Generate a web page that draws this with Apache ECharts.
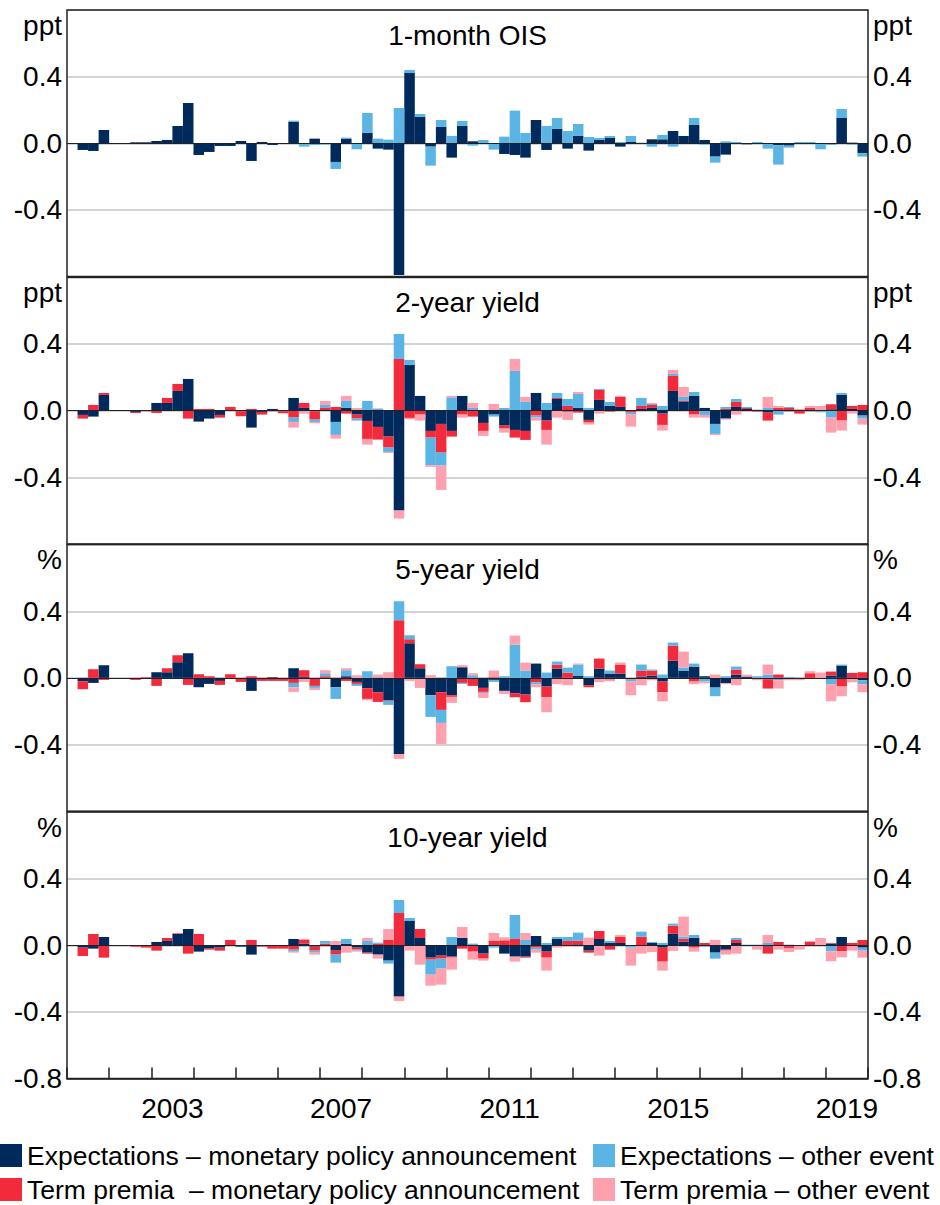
<!DOCTYPE html>
<html>
<head>
<meta charset="utf-8">
<title>Decomposition of yield changes</title>
<script src="https://cdn.jsdelivr.net/npm/echarts@6/dist/echarts.min.js"></script>
<style>
  html, body { margin: 0; padding: 0; background: #fff; }
  #chart { width: 940px; height: 1205px; }
</style>
</head>
<body>
<div id="chart"></div>
<script>
// quarters 2001 Q1 .. 2019 Q4
var years = [2001, 2002, 2003, 2004, 2005, 2006, 2007, 2008, 2009, 2010,
             2011, 2012, 2013, 2014, 2015, 2016, 2017, 2018, 2019];
var quarters = [];
years.forEach(function (y) {
  ['Q1', 'Q2', 'Q3', 'Q4'].forEach(function (q) { quarters.push(y + ' ' + q); });
});
var yearLabels = ['2003', '2007', '2011', '2015', '2019'];

var seriesNames = [
  'Expectations – monetary policy announcement',
  'Term premia  – monetary policy announcement',
  'Expectations – other event',
  'Term premia – other event'
];

// 1-month OIS (ppt)
var ois_expMp = [
  0, -0.04, -0.046, 0.08,   0, 0, 0.006, 0.006,   0.014, 0.02, 0.104, 0.242,   -0.07, -0.052, -0.016, -0.016,
  0.014, -0.106, 0.008, -0.01,   0, 0.13, 0, 0.028,   0, -0.112, 0.026, -0.004,   0.064, -0.032, -0.038, -0.79,
  0.422, 0.16, -0.02, 0.098,   -0.086, 0.104, 0.012, -0.004,   0, -0.064, -0.07, -0.086,   0.14, -0.04, 0.086, -0.032,
  0.044, -0.044, 0.02, 0.032,   -0.02, 0.008, 0, 0.024,   0.024, 0.074, 0.044, 0.11,   0.02, -0.08, -0.068, -0.004,
  -0.006, -0.004, -0.006, -0.012,   -0.014, -0.004, -0.004, -0.004,   -0.004, 0.152, 0.004, -0.06
];
var ois_expOther = [
  0, 0, 0, 0,   0, 0, 0, 0,   0, 0, 0, 0,   0, 0, 0, 0,
  0, 0, 0, 0,   0, 0.006, -0.02, -0.01,   -0.008, -0.042, 0.008, -0.032,   0.118, 0.028, 0.022, 0.212,
  0.018, 0.016, -0.114, 0.042,   0.044, 0.03, -0.014, 0.02,   -0.038, 0.04, 0.196, 0.062,   0, 0.104, 0.066, 0.074,
  0.072, 0.038, 0.012, 0.012,   0.008, 0.036, 0.004, -0.02,   0.026, -0.02, -0.004, 0.042,   -0.008, -0.036, 0.012, 0.008,
  0, 0.008, -0.026, -0.116,   -0.012, 0.008, 0.008, -0.032,   -0.006, 0.054, -0.008, -0.02
];

// 2-year yield (ppt)
var y2_expMp = [
  0, -0.026, -0.036, 0.094,   0, 0, -0.008, 0,   0.046, 0.046, 0.118, 0.19,   -0.066, -0.048, -0.026, 0,
  -0.004, -0.102, -0.008, 0.01,   -0.004, 0.076, 0.016, -0.004,   0, -0.068, 0.016, -0.024,   -0.062, -0.098, -0.156, -0.6,
  0.274, 0.088, -0.122, -0.08,   -0.122, 0.088, 0, -0.074,   -0.024, -0.09, -0.116, -0.122,   0.106, -0.06, 0.07, -0.006,
  0.016, -0.056, 0.064, 0.028,   0.022, 0, 0.01, 0.016,   -0.018, 0.118, 0.052, 0.088,   0.016, -0.08, -0.048, 0.022,
  0.01, 0, -0.012, 0,   -0.004, 0, 0, 0,   0.008, 0.094, 0.01, -0.03
];
var y2_tpMp = [
  0, -0.022, 0.034, 0.012,   0, 0, -0.006, -0.004,   -0.014, 0.03, 0.042, -0.048,   0.01, 0.01, -0.016, 0.022,
  -0.03, 0.01, -0.016, -0.004,   -0.012, -0.042, 0.03, -0.05,   0.016, 0.022, -0.018, -0.024,   -0.108, -0.076, -0.066, 0.31,
  -0.044, -0.024, -0.04, -0.172,   -0.034, -0.024, -0.036, -0.048,   0, -0.018, -0.046, -0.054,   -0.03, -0.056, 0.006, 0.028,
  -0.012, -0.016, 0.06, -0.006,   0.06, -0.012, 0.018, 0.018,   -0.068, 0.09, 0.006, -0.024,   0, 0, 0.01, 0.03,
  0.006, -0.006, -0.048, 0.016,   0.016, -0.018, 0.016, -0.004,   0.03, -0.06, 0.018, 0.034
];
var y2_expOther = [
  0, 0, 0, 0,   0, 0, 0, 0,   0, 0, 0, 0,   0, 0, 0, 0,
  0, 0, 0, 0,   0, -0.026, 0, -0.014,   0.018, -0.078, 0.042, -0.012,   0.058, 0.01, -0.026, 0.15,
  0.03, 0, -0.166, -0.078,   0.08, 0, 0.016, 0,   -0.012, 0.016, 0.238, 0.052,   -0.012, 0.046, 0.03, 0.042,
  0.084, 0.016, 0.006, 0.024,   0, -0.012, 0.048, 0.006,   0.028, 0.012, 0.024, 0.024,   -0.026, -0.06, 0.012, 0.018,
  0.006, 0.006, 0.016, -0.024,   0.006, 0, -0.006, -0.006,   -0.042, 0.012, 0, -0.018
];
var y2_tpOther = [
  0, 0, 0, 0,   0, 0, 0, 0,   0, 0, 0, 0,   0, 0, 0, 0,
  0, 0, 0, 0,   0, -0.034, -0.018, -0.008,   0.024, -0.022, 0.03, 0.016,   -0.034, 0.004, -0.006, -0.048,
  -0.008, -0.036, -0.01, -0.146,   0.008, -0.018, 0.03, -0.03,   0.04, -0.024, 0.072, 0.03,   -0.018, -0.088, -0.042, -0.05,
  0.012, -0.012, -0.018, 0,   0.006, -0.072, -0.006, 0.006,   -0.034, 0.024, 0.06, -0.018,   -0.016, -0.006, -0.006, -0.024,
  -0.006, 0, 0.066, 0.012,   0, 0.01, 0.012, 0.028,   -0.09, -0.06, -0.018, -0.036
];

// 5-year yield (%)
var y5_expMp = [
  0, -0.02, -0.03, 0.076,   0, 0, 0, 0,   0.034, 0.034, 0.094, 0.148,   -0.056, -0.036, -0.018, 0,
  0, -0.078, 0, 0.004,   0, 0.058, 0.006, 0,   0, -0.056, 0.01, -0.024,   -0.062, -0.086, -0.134, -0.458,
  0.208, 0.058, -0.104, -0.086,   -0.104, 0.064, 0, -0.06,   -0.012, -0.078, -0.092, -0.1,   0.086, -0.052, 0.056, 0,
  0.014, -0.044, 0.056, 0.026,   0.026, 0, 0.008, 0.014,   -0.022, 0.104, 0.044, 0.068,   0.01, -0.058, -0.032, 0.02,
  0.008, 0, -0.008, 0,   0, 0, 0, 0,   0.014, 0.074, 0.004, -0.014
];
var y5_tpMp = [
  0, -0.048, 0.052, -0.012,   0, 0, -0.012, 0.004,   -0.048, 0.024, 0.042, -0.042,   0.022, 0.01, -0.024, 0.022,
  -0.024, 0.01, -0.018, -0.018,   -0.018, -0.03, 0.04, -0.048,   0.01, 0, -0.018, -0.012,   -0.064, -0.058, -0.004, 0.346,
  0.024, 0.024, 0, -0.106,   -0.01, -0.03, -0.048, -0.024,   0.004, 0, -0.024, -0.046,   -0.026, -0.064, 0.024, 0.032,
  0, -0.012, 0.06, -0.01,   0.054, -0.01, 0.036, 0.03,   -0.064, 0.09, 0, -0.022,   0, 0, 0, 0.03,
  0, -0.004, -0.056, 0.02,   -0.004, -0.004, 0.028, 0,   0.024, -0.052, 0.026, 0.034
];
var y5_expOther = [
  0, 0, 0, 0,   0, 0, 0, 0,   0, 0, 0, 0,   0, 0, 0, 0,
  0, 0, 0, 0,   0, -0.026, 0, -0.012,   0.018, -0.07, 0.036, -0.012,   0.04, 0.004, -0.024, 0.114,
  0.024, -0.006, -0.13, -0.078,   0.07, -0.006, 0.016, -0.006,   -0.012, 0.01, 0.2, 0.044,   -0.012, 0.032, 0.018, 0.03,
  0.066, 0.01, 0, 0.018,   0, -0.012, 0.036, 0.006,   0.02, 0.018, 0.018, 0.018,   -0.022, -0.052, 0.01, 0.018,
  0, 0.01, 0.02, -0.014,   0.006, 0.002, 0, -0.004,   -0.04, 0.006, 0, -0.024
];
var y5_tpOther = [
  0, 0, 0, 0,   0, 0, 0, 0,   0, 0, 0, 0,   0, 0, 0, 0,
  0, 0, 0, 0,   0, -0.028, -0.024, -0.012,   0.018, 0.004, 0.012, 0.016,   -0.008, 0.016, 0.034, -0.028,
  -0.018, -0.054, 0.016, -0.128,   -0.036, 0.012, 0.012, -0.03,   0.04, -0.018, 0.054, 0.048,   -0.018, -0.09, -0.038, -0.044,
  0.006, 0, -0.026, -0.01,   0.012, -0.082, -0.044, -0.014,   -0.054, -0.004, 0.096, -0.016,   -0.01, 0.02, -0.006, -0.044,
  0.012, -0.01, 0.06, -0.05,   -0.01, -0.01, 0.012, 0.032,   -0.1, -0.058, -0.026, -0.048
];

// 10-year yield (%)
var y10_expMp = [
  0, -0.014, -0.02, 0.05,   0, 0, 0, 0,   0.02, 0.026, 0.068, 0.098,   -0.038, -0.02, -0.014, 0,
  -0.008, -0.056, 0, 0,   0, 0.038, 0.01, -0.008,   0, -0.032, 0.01, -0.014,   -0.044, -0.056, -0.092, -0.308,
  0.146, 0.044, -0.074, -0.062,   -0.068, 0.044, 0, -0.05,   -0.004, -0.05, -0.068, -0.068,   0.056, -0.038, 0.038, 0,
  0.006, -0.032, 0.038, 0.014,   0.014, 0, 0, 0.014,   -0.014, 0.07, 0.022, 0.044,   0, -0.044, -0.026, 0.014,
  0, 0, -0.008, 0,   -0.006, 0, -0.004, 0,   0.01, 0.05, 0, -0.014
];
var y10_tpMp = [
  0, -0.05, 0.068, -0.074,   0, 0, -0.008, -0.014,   -0.032, 0.018, 0.004, -0.05,   0.068, -0.006, -0.018, 0.032,
  0, 0.032, -0.008, -0.02,   -0.02, -0.026, 0.022, -0.024,   0.01, -0.024, 0, -0.012,   -0.006, 0.01, 0.032, 0.194,
  0, 0.054, -0.012, -0.018,   -0.006, -0.02, -0.038, -0.03,   0.026, 0.03, 0.038, -0.006,   -0.014, -0.036, 0, 0.026,
  0.022, -0.012, 0.048, -0.026,   0.036, 0, 0.052, 0,   -0.084, 0.048, 0.018, -0.014,   0.014, 0, -0.006, 0.018,
  0, 0, -0.042, 0.02,   -0.01, 0, 0.02, 0,   0.004, -0.036, 0.014, 0.032
];
var y10_expOther = [
  0, 0, 0, 0,   0, 0, 0, 0,   0, 0, 0, 0,   0, 0, 0, 0,
  0, 0, 0, 0,   0, -0.012, -0.006, -0.012,   0.016, -0.048, 0.028, -0.006,   0.026, 0.006, -0.018, 0.078,
  0.018, 0, -0.09, -0.06,   0.05, 0, 0.01, 0,   -0.01, 0, 0.144, 0.032,   -0.012, 0.014, 0.012, 0.024,
  0.048, 0, 0, 0.012,   0, -0.014, 0.03, 0.006,   0.014, 0.012, 0.012, 0.018,   -0.008, -0.036, 0, 0.012,
  0.004, 0.004, 0.014, 0,   0.004, 0, 0, 0,   -0.036, 0, 0, -0.018
];
var y10_tpOther = [
  0, 0, 0, 0,   0, 0, 0, 0,   0, 0, 0, 0,   0, 0, 0, 0,
  0, 0, 0, 0,   0, -0.006, 0.006, -0.012,   -0.008, 0.026, -0.044, -0.006,   0.018, -0.024, 0.066, -0.026,
  -0.032, -0.116, -0.066, -0.096,   -0.072, 0.066, -0.048, -0.012,   0.048, 0.018, -0.03, 0.042,   -0.018, -0.078, -0.014, -0.006,
  -0.008, 0.046, -0.062, 0,   0.012, -0.108, -0.05, -0.04,   -0.054, -0.034, 0.12, -0.024,   0, 0.032, -0.024, -0.05,
  -0.004, -0.026, 0.048, -0.026,   -0.024, -0.026, 0.006, 0.044,   -0.06, -0.036, -0.032, -0.042
];

var colors = ['#002a5c', '#f32a3b', '#5bb5e4', '#fea0ad'];
var FONT = '"Liberation Sans", Arial, Helvetica, sans-serif';

// stack order from zero: exp-MP, TP-MP, exp-other, TP-other
var panels = [
  { title: '1-month OIS', unit: 'ppt', top: 10,    data: [ois_expMp, null, ois_expOther, null] },
  { title: '2-year yield', unit: 'ppt', top: 277.3, data: [y2_expMp, y2_tpMp, y2_expOther, y2_tpOther] },
  { title: '5-year yield', unit: '%',  top: 544.6, data: [y5_expMp, y5_tpMp, y5_expOther, y5_tpOther] },
  { title: '10-year yield', unit: '%', top: 812,   data: [y10_expMp, y10_tpMp, y10_expOther, y10_tpOther] }
];
var LEFT = 67, RIGHT = 868, H = 266.6;

var grids = [], xAxes = [], yAxes = [], series = [], graphics = [];

function tickFmt(isLast) {
  return function (v) {
    if (Math.abs(v) < 1e-9) return '0.0';
    if (v > 0.79) return '';
    if (v < -0.79) return isLast ? '-0.8' : '';
    return v.toFixed(1);
  };
}

panels.forEach(function (p, k) {
  var last = k === panels.length - 1;
  grids.push({ left: LEFT, right: 940 - RIGHT, top: p.top, height: H });
  xAxes.push({
    type: 'category', gridIndex: k, data: quarters, z: 5,
    axisLine: { onZero: true, lineStyle: { color: '#222', width: 1 } },
    axisTick: { show: false }, axisLabel: { show: false }, splitLine: { show: false }
  });
  var label = { fontFamily: FONT, fontSize: 28, color: '#000', margin: 5, formatter: tickFmt(last) };
  yAxes.push({
    type: 'value', gridIndex: k, min: -0.8, max: 0.8, interval: 0.4, position: 'left',
    axisLine: { show: false }, axisTick: { show: false }, axisLabel: label,
    splitLine: { lineStyle: { color: '#c6c6c6', width: 1.5 } }
  });
  yAxes.push({
    type: 'value', gridIndex: k, min: -0.8, max: 0.8, interval: 0.4, position: 'right',
    axisLine: { show: false }, axisTick: { show: false }, axisLabel: label,
    splitLine: { show: false }
  });
  p.data.forEach(function (arr, s) {
    if (!arr) return;
    series.push({
      name: seriesNames[s], type: 'bar', stack: 'p' + k,
      xAxisIndex: k, yAxisIndex: 2 * k,
      barCategoryGap: '0%', barWidth: '100%',
      itemStyle: { color: colors[s] },
      emphasis: { disabled: true },
      data: arr
    });
  });
  // frame, title and units
  graphics.push({
    type: 'rect', z: 100, silent: true,
    shape: { x: LEFT, y: p.top, width: RIGHT - LEFT, height: H },
    style: { fill: 'none', stroke: '#222', lineWidth: 1.5 }
  });
  graphics.push({
    type: 'text', z: 100, x: (LEFT + RIGHT) / 2, y: p.top + 25,
    style: { text: p.title, font: '28px ' + FONT, fill: '#000',
             align: 'center', verticalAlign: 'middle', textAlign: 'center', textVerticalAlign: 'middle' }
  });
  graphics.push({
    type: 'text', z: 100, x: LEFT - 5, y: p.top + 15,
    style: { text: p.unit, font: '28px ' + FONT, fill: '#000',
             align: 'right', verticalAlign: 'middle', textAlign: 'right', textVerticalAlign: 'middle' }
  });
  graphics.push({
    type: 'text', z: 100, x: RIGHT + 5, y: p.top + 15,
    style: { text: p.unit, font: '28px ' + FONT, fill: '#000',
             align: 'left', verticalAlign: 'middle', textAlign: 'left', textVerticalAlign: 'middle' }
  });
});

// year axis under the bottom panel
xAxes.push({
  type: 'category', gridIndex: 3, data: years.map(String), position: 'bottom', z: 6,
  boundaryGap: true,
  axisLine: { onZero: false, lineStyle: { color: '#222', width: 1.5 } },
  axisTick: { show: true, inside: true, length: 11, interval: 0, lineStyle: { color: '#222', width: 1.5 } },
  axisLabel: {
    interval: 0, fontFamily: FONT, fontSize: 28, color: '#000', margin: 16,
    formatter: function (v) { return yearLabels.indexOf(v) >= 0 ? v : ''; }
  },
  splitLine: { show: false }
});

function legendItem(name, left, top) {
  return {
    data: [name], left: left, top: top, padding: 0, orient: 'horizontal',
    icon: 'rect', itemWidth: 22, itemHeight: 23, selectedMode: false,
    textStyle: { fontFamily: FONT, fontSize: 26.5, lineHeight: 27, color: '#000' }
  };
}

var chart = echarts.init(document.getElementById('chart'), null, { renderer: 'svg' });
chart.setOption({
  animation: false,
  backgroundColor: '#fff',
  grid: grids,
  xAxis: xAxes,
  yAxis: yAxes,
  legend: [
    legendItem(seriesNames[0], 0, 1142),
    legendItem(seriesNames[2], 593, 1142),
    legendItem(seriesNames[1], 0, 1176),
    legendItem(seriesNames[3], 593, 1176)
  ],
  graphic: graphics,
  series: series
});
</script>
</body>
</html>
